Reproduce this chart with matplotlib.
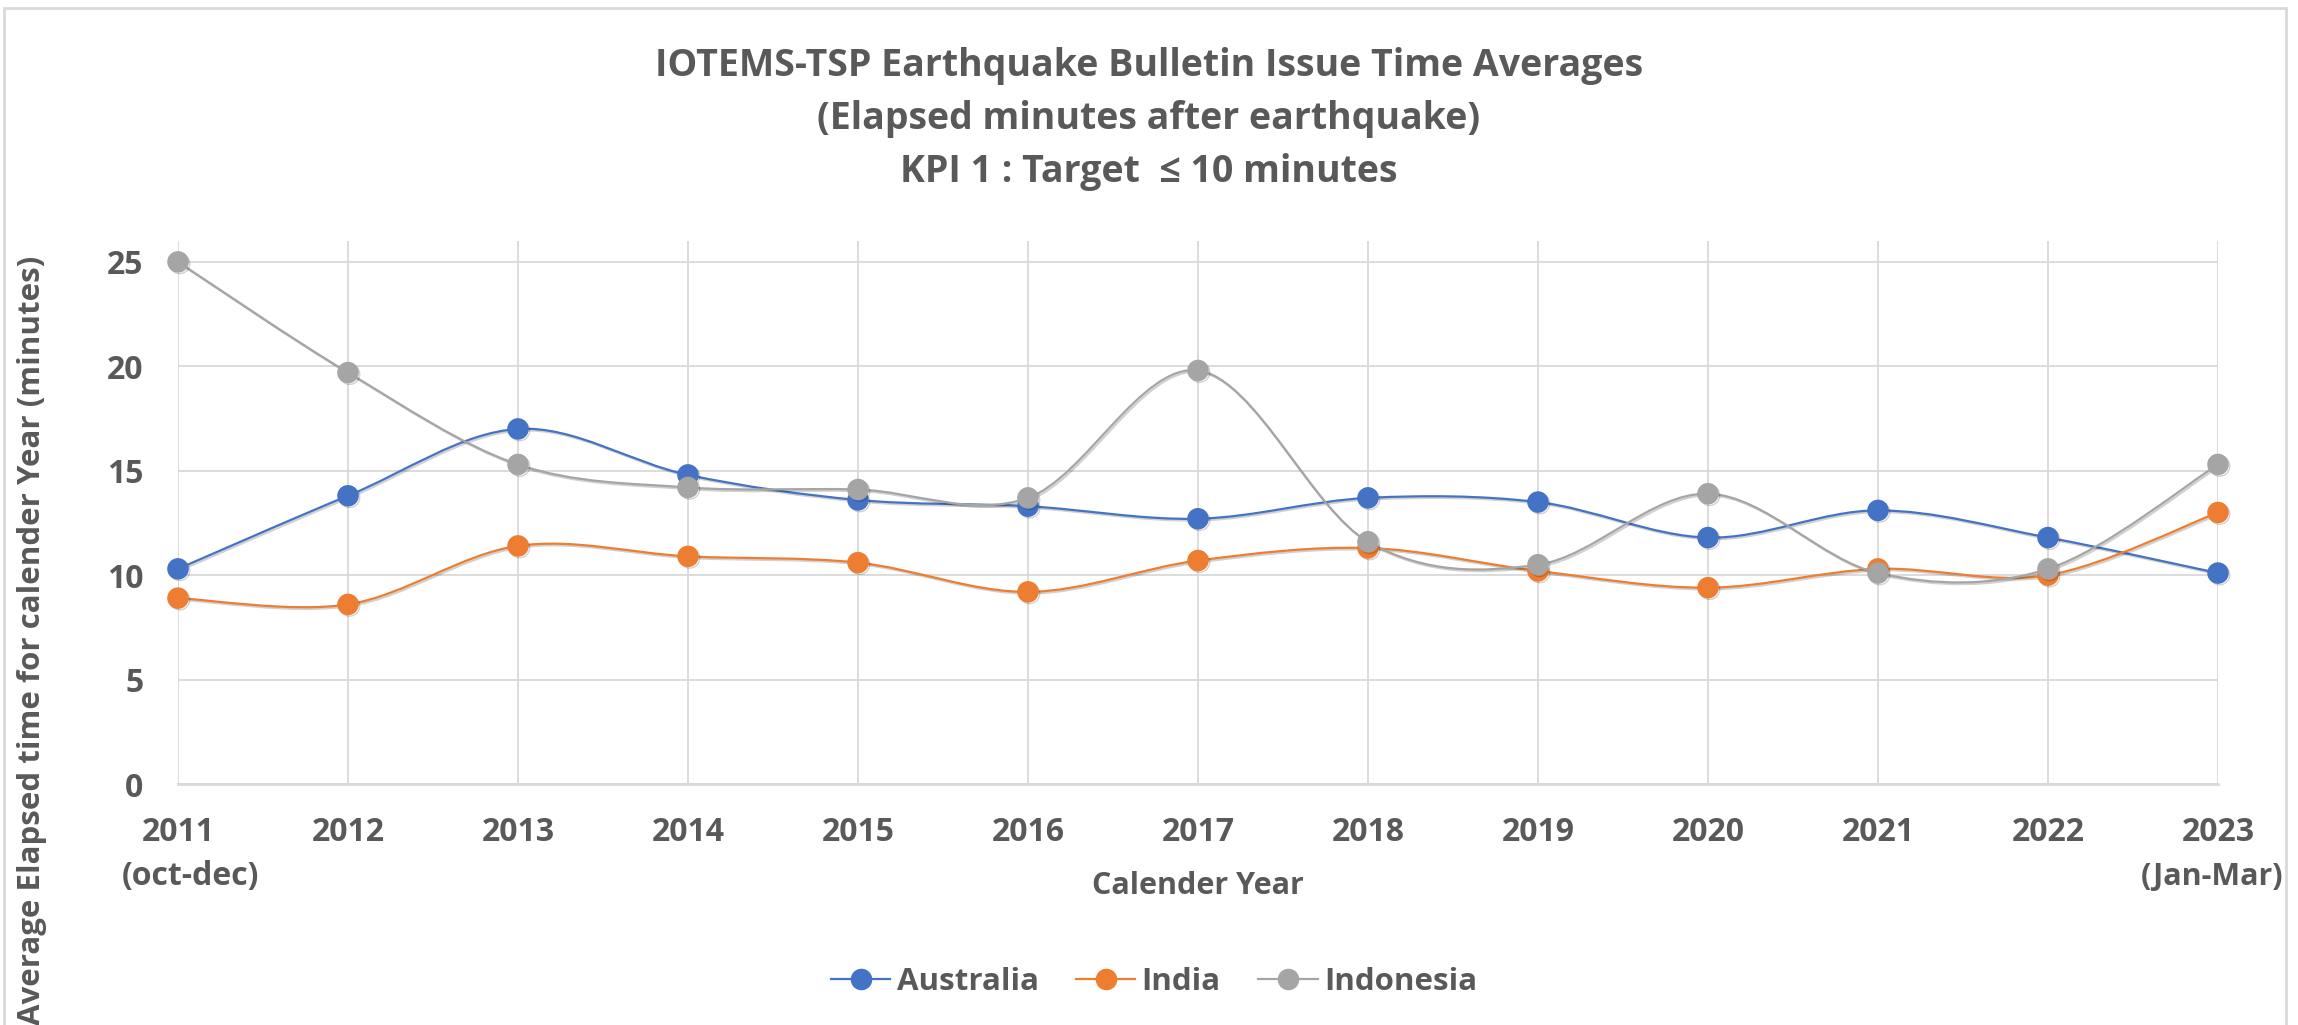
import numpy as np
import matplotlib.pyplot as plt
import matplotlib.patheffects as pe
from matplotlib.path import Path
from matplotlib.patches import PathPatch, Rectangle
from matplotlib.lines import Line2D

years = ['2011', '2012', '2013', '2014', '2015', '2016', '2017',
         '2018', '2019', '2020', '2021', '2022', '2023']
australia = [10.3, 13.8, 17.0, 14.8, 13.6, 13.3, 12.7, 13.7, 13.5, 11.8, 13.1, 11.8, 10.1]
india = [8.9, 8.6, 11.4, 10.9, 10.6, 9.2, 10.7, 11.3, 10.2, 9.4, 10.3, 10.0, 13.0]
indonesia = [25.0, 19.7, 15.3, 14.2, 14.1, 13.7, 19.8, 11.6, 10.5, 13.9, 10.1, 10.3, 15.3]

series = {'Australia': (australia, '#4472C4'),
          'India': (india, '#ED7D31'),
          'Indonesia': (indonesia, '#A5A5A5')}

TXT = '#595959'
GRID = '#D9D9D9'
plt.rcParams['font.family'] = ['Open Sans', 'DejaVu Sans']
plt.rcParams['font.weight'] = 'bold'
plt.rcParams['axes.labelweight'] = 'bold'


def smooth_path(xs, ys):
    # excel style smoothed line: bezier segments, control points from neighbours
    pts = np.column_stack([xs, ys]).astype(float)
    ext = np.vstack([pts[0], pts, pts[-1]])
    verts = [pts[0]]
    codes = [Path.MOVETO]
    for i in range(len(pts) - 1):
        p0, p1, p2, p3 = ext[i], ext[i + 1], ext[i + 2], ext[i + 3]
        verts += [p1 + (p2 - p0) / 6, p2 - (p3 - p1) / 6, p2]
        codes += [Path.CURVE4] * 3
    return Path(verts, codes)


shadow = [pe.SimpleLineShadow(offset=(1.2, -1.2), shadow_color='k', alpha=0.18), pe.Normal()]

fig = plt.figure(figsize=(22.98, 10.25), dpi=100)
ax = fig.add_axes([178 / 2298, 0.2351, (2218 - 178) / 2298, 0.5298])

x = np.arange(len(years))
for name, (vals, col) in series.items():
    ax.add_patch(PathPatch(smooth_path(x, vals), fill=False, edgecolor=col,
                           lw=1.6, zorder=3, clip_on=False, path_effects=shadow))
    ax.plot(x, vals, ls='none', marker='o', ms=14.5, color=col, mec=col,
            zorder=4, clip_on=False, path_effects=shadow)

ax.set_xlim(0, len(years) - 1)
ax.set_ylim(0, 26)
ax.set_yticks([0, 5, 10, 15, 20, 25])
ax.set_xticks(x)
ax.set_xticklabels(years)
ax.grid(True, color=GRID, lw=1.3)
ax.set_axisbelow(True)
for s in ['top', 'right', 'left']:
    ax.spines[s].set_visible(False)
ax.spines['bottom'].set_color(GRID)
ax.spines['bottom'].set_linewidth(2)
ax.tick_params(axis='both', length=0, labelsize=23, labelcolor=TXT)
ax.tick_params(axis='x', pad=23)
ax.tick_params(axis='y', pad=25)

# period notes under first and last year
ax.annotate('(oct-dec)', xy=(0, 0), xycoords=('data', 'axes fraction'),
            xytext=(9, -73), textcoords='offset points', ha='center', va='baseline',
            fontsize=23, color=TXT)
ax.annotate('(Jan-Mar)', xy=(12, 0), xycoords=('data', 'axes fraction'),
            xytext=(-4, -73), textcoords='offset points', ha='center', va='baseline',
            fontsize=22, color=TXT)

ax.set_xlabel('Calender Year', fontsize=22, color=TXT, labelpad=16)
fig.text(32 / 2298, 1 - 256 / 1025, 'Average Elapsed time for calender Year (minutes)',
         rotation=90, ha='center', va='top', fontsize=22.5, color=TXT)

titles = ['IOTEMS-TSP Earthquake Bulletin Issue Time Averages',
          '(Elapsed minutes after earthquake)',
          'KPI 1 : Target  \u2264 10 minutes']
for i, t in enumerate(titles):
    fig.text(0.5, 1 - (76 + 53 * i) / 1025, t, ha='center', va='baseline',
             fontsize=27, color=TXT)

handles = [Line2D([], [], color=col, lw=1.6, marker='o', ms=14.5)
           for vals, col in series.values()]
fig.legend(handles, list(series.keys()), loc='center',
           bbox_to_anchor=(1154 / 2298, 1 - 982 / 1025), ncol=3, frameon=False,
           fontsize=22.5, labelcolor=TXT, handlelength=1.9, handletextpad=0.2,
           columnspacing=1.2)

fig.patches.append(Rectangle((4 / 2298, -0.1), 2282 / 2298, 1.1 - 8 / 1025,
                             transform=fig.transFigure, fill=False,
                             edgecolor=GRID, lw=2))

fig.savefig('out.png', dpi=100)
